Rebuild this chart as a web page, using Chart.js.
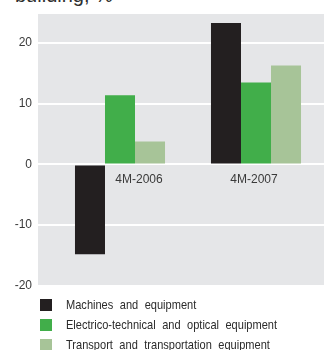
<!DOCTYPE html>
<html>
<head>
<meta charset="utf-8">
<script src="https://cdn.jsdelivr.net/npm/chart.js@4"></script>
<style>
  html, body { margin: 0; padding: 0; background: #ffffff; }
  body { width: 324px; height: 350px; position: relative; overflow: hidden; }
  #title {
    position: absolute; left: 15px; top: -16px;
    font: 20px "Liberation Sans", Arial, sans-serif; color: #2e2e2e;
    line-height: 22px; white-space: nowrap;
  }
  #wrap { position: absolute; left: 0; top: 0; width: 324px; height: 299px; }
  #legend {
    position: absolute; left: 40px; top: 299px;
    font: 13px "Liberation Sans", Arial, sans-serif;
    color: #2b2b2b;
  }
  .row { display: flex; align-items: center; height: 12px; margin-bottom: 8px; white-space: nowrap; }
  .box { width: 12px; height: 12px; margin-right: 14px; flex: none; }
  .txt { display: inline-block; transform: scaleX(0.85); transform-origin: left center; word-spacing: 4px; line-height: 12px; }
</style>
</head>
<body>
<div id="title">building, %</div>
<div id="wrap"><canvas id="chart"></canvas></div>
<div id="legend"></div>
<script>
// Periods (January–April of each year)
const categories = ['4M-2006', '4M-2007'];

// Growth by industry group, %
const machinesEquipment = [-14.8, 23.3];
const electricoOptical = [11.4, 13.5];
const transportEquipment = [3.8, 16.3];

const seriesNames = [
  'Machines and equipment',
  'Electrico-technical and optical equipment',
  'Transport and transportation equipment'
];
const seriesColors = ['#231f20', '#41ae4a', '#a7c498'];

// Y-axis gridline values
const yTicks = [-20, -10, 0, 10, 20];

const tickFont = { family: '"Liberation Sans", Arial, sans-serif', size: 12 };
const textColor = '#3a3a3a';

// Grey plot panel, extending slightly left of the category area
const panelPlugin = {
  id: 'panel',
  beforeDraw(chart) {
    const { ctx, chartArea } = chart;
    ctx.save();
    ctx.fillStyle = '#e5e6e8';
    ctx.fillRect(chartArea.left - 14, chartArea.top, chartArea.right - chartArea.left + 14, chartArea.bottom - chartArea.top);
    ctx.restore();
  }
};

// Period labels drawn just under the zero line, nudged clear of negative bars
const periodLabelPlugin = {
  id: 'periodLabels',
  afterDatasetsDraw(chart) {
    const { ctx, scales } = chart;
    const y0 = scales.y.getPixelForValue(0);
    ctx.save();
    ctx.font = '12px "Liberation Sans", Arial, sans-serif';
    ctx.fillStyle = textColor;
    ctx.textAlign = 'center';
    ctx.textBaseline = 'middle';
    categories.forEach((label, i) => {
      const shift = machinesEquipment[i] < 0 ? 19 : -2;
      ctx.fillText(label, scales.x.getPixelForValue(i) + shift, y0 + 15);
    });
    ctx.restore();
  }
};

const values = [machinesEquipment, electricoOptical, transportEquipment];

new Chart(document.getElementById('chart'), {
  type: 'bar',
  data: {
    labels: categories,
    datasets: values.map((v, i) => ({
      label: seriesNames[i],
      data: v,
      backgroundColor: seriesColors[i],
      borderWidth: 0,
      categoryPercentage: 0.662,
      barPercentage: 1.0
    }))
  },
  options: {
    responsive: true,
    maintainAspectRatio: false,
    animation: false,
    layout: { padding: { top: 14, bottom: 5, left: 0, right: 0 } },
    plugins: {
      legend: { display: false },
      tooltip: { enabled: false }
    },
    scales: {
      x: {
        display: false
      },
      y: {
        min: -20,
        max: 24.8,
        afterBuildTicks(scale) {
          scale.ticks = yTicks.map(v => ({ value: v }));
        },
        afterFit(scale) { scale.width = 52; },
        border: { display: false },
        grid: {
          color: '#ffffff',
          lineWidth: 2,
          drawTicks: true,
          tickLength: 14
        },
        ticks: {
          font: tickFont,
          color: textColor,
          padding: 6
        }
      }
    }
  },
  plugins: [panelPlugin, periodLabelPlugin]
});

// Legend rows
const legend = document.getElementById('legend');
seriesNames.forEach((name, i) => {
  const row = document.createElement('div');
  row.className = 'row';
  const box = document.createElement('span');
  box.className = 'box';
  box.style.background = seriesColors[i];
  const txt = document.createElement('span');
  txt.className = 'txt';
  txt.textContent = name;
  row.appendChild(box);
  row.appendChild(txt);
  legend.appendChild(row);
});
</script>
</body>
</html>
